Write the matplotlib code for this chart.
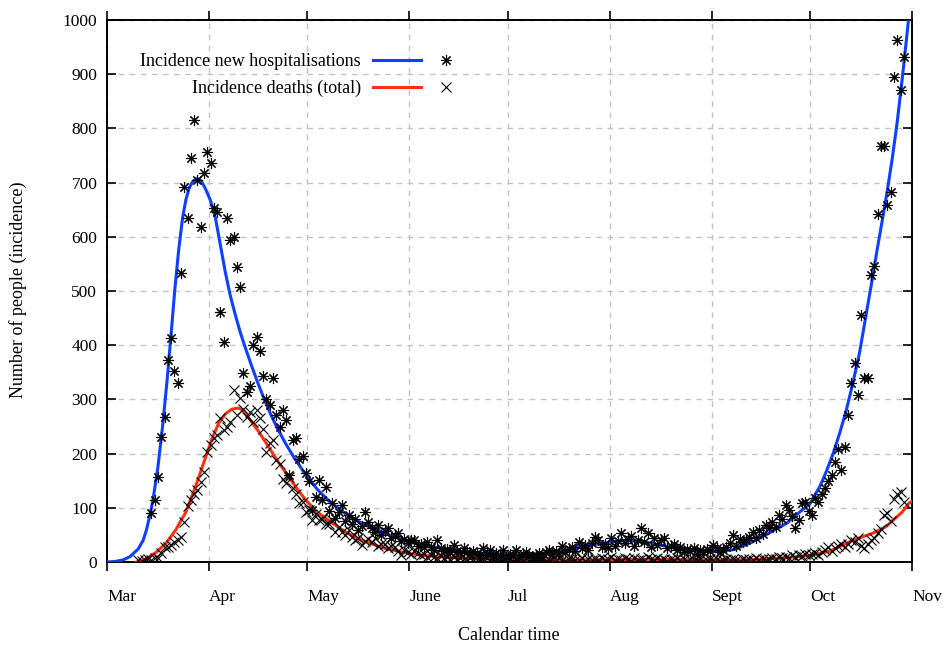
import numpy as np
import matplotlib
matplotlib.use('Agg')
from matplotlib import pyplot as plt
from matplotlib.lines import Line2D
from matplotlib.legend_handler import HandlerTuple

plt.rcParams['font.family'] = ['Liberation Serif', 'DejaVu Serif']
plt.rcParams['font.size'] = 12.5

# days counted from 1 March
month_days = [0, 31, 61, 92, 122, 153, 184, 214, 245]
month_labels = ['Mar', 'Apr', 'May', 'June', 'Jul', 'Aug', 'Sept', 'Oct', 'Nov']

# daily observed hospitalisations, first value is day 13
hosp_start = 13
hosp = [
    90, 114, 157, 230, 267, 372, 414, 352, 331, 533,
    692, 635, 746, 816, 705, 619, 717, 757, 737, 654,
    645, 461, 406, 635, 595, 599, 545, 508, 349, 314,
    324, 401, 415, 390, 343, 300, 290, 340, 272, 250,
    280, 262, 160, 226, 229, 190, 196, 165, 150, 96,
    120, 151, 115, 139, 95, 108, 82, 92, 105, 75,
    87, 70, 80, 59, 66, 93, 74, 62, 55, 68,
    50, 57, 62, 45, 48, 53, 38, 42, 35, 40,
    40, 30, 33, 27, 36, 28, 22, 40, 26, 20,
    24, 18, 31, 20, 16, 25, 19, 14, 20, 17,
    12, 25, 15, 22, 11, 16, 13, 22, 10, 15,
    12, 22, 9, 14, 19, 11, 8, 13, 16, 10,
    18, 22, 14, 20, 16, 29, 18, 24, 28, 20,
    37, 26, 31, 22, 35, 47, 40, 28, 33, 25,
    44, 30, 38, 54, 35, 42, 48, 30, 40, 62,
    36, 53, 28, 44, 32, 40, 44, 26, 30, 34,
    22, 28, 18, 24, 20, 26, 15, 22, 18, 24,
    20, 31, 25, 18, 22, 28, 35, 50, 30, 42,
    37, 40, 47, 56, 45, 59, 52, 68, 62, 74,
    65, 87, 80, 105, 96, 85, 62, 77, 108, 111,
    95, 87, 118, 111, 125, 136, 150, 160, 185, 209,
    169, 212, 271, 330, 367, 309, 455, 340, 340, 530,
    547, 642, 768, 768, 659, 682, 894, 963, 870, 932,
]

# daily observed deaths, first value is day 9
deaths_start = 9
deaths = [
    3, 2, 4, 5, 3, 7, 7, 16, 28, 28,
    31, 37, 40, 47, 74, 103, 114, 125, 133, 148,
    166, 203, 215, 228, 234, 266, 243, 249, 258, 318,
    271, 302, 283, 268, 277, 258, 280, 265, 246, 203,
    219, 225, 188, 180, 154, 145, 157, 136, 125, 108,
    110, 93, 96, 77, 88, 77, 80, 71, 71, 77,
    55, 65, 56, 50, 59, 46, 40, 45, 31, 38,
    42, 36, 44, 30, 33, 34, 25, 29, 28, 20,
    13, 22, 18, 15, 20, 16, 12, 14, 9, 12,
    10, 8, 11, 7, 9, 6, 10, 5, 8, 6,
    4, 7, 5, 3, 6, 4, 7, 3, 5, 2,
    6, 4, 3, 5, 2, 6, 4, 3, 7, 2,
    4, 5, 3, 6, 2, 4, 5, 3, 7, 4,
    2, 5, 6, 3, 4, 8, 2, 5, 3, 6,
    4, 7, 3, 5, 9, 4, 6, 3, 8, 5,
    2, 7, 4, 6, 3, 9, 5, 4, 7, 3,
    6, 2, 5, 4, 7, 3, 5, 2, 6, 4,
    3, 5, 2, 4, 6, 3, 5, 2, 4, 6,
    3, 5, 4, 2, 6, 3, 5, 4, 7, 3,
    6, 4, 5, 8, 6, 9, 7, 10, 8, 12,
    9, 13, 11, 15, 12, 14, 16, 13, 19, 22,
    28, 20, 25, 30, 34, 28, 34, 40, 37, 44,
    30, 25, 34, 40, 45, 53, 60, 87, 90, 75,
    117, 126, 129, 111,
]

# fitted model curves (day, value)
fit_hosp_day = [0, 2.5, 5, 7, 9.5, 11, 12, 13, 14, 15.5, 17, 18.3, 19.5,
                20.6, 21.8, 23, 24, 25, 26, 27, 28, 29, 30, 31.5, 33, 34.5,
                36, 37.5, 39, 40.5, 42, 44, 46, 48, 50, 52, 54.5, 57, 60,
                64, 68, 73.5, 78, 85, 91.5, 100, 108, 116, 124, 131, 138,
                146, 153.5, 158.5, 164.5, 171, 179, 186.5, 191, 196.5, 201,
                207, 210, 214, 217, 219, 221, 223, 225, 227, 229, 231, 233,
                234.5, 236, 237.5, 239, 240.5, 242, 243.5, 245]
fit_hosp = [0, 1, 4, 10, 24, 40, 59, 85, 115, 175, 255, 336, 420,
            500, 575, 635, 668, 690, 701, 707, 707, 700, 688, 667, 635, 585,
            535, 492, 457, 425, 397, 362, 329, 298, 270, 245, 217, 192, 165,
            134, 110, 85, 70, 52, 38, 27, 19, 15, 13, 15, 20,
            30, 37, 40, 36, 28, 22, 20, 23, 37, 52,
            72, 88, 108, 140, 168, 200, 238, 280, 330, 385, 455, 525,
            580, 632, 686, 745, 812, 890, 975, 1065]

fit_deaths_day = [9, 12, 15, 18, 21, 24, 27, 30, 32, 34, 36, 38, 40, 41.5,
                  43, 46, 48.5, 51.5, 54.5, 57.5, 60.5, 64, 68.5, 73.5, 77.5,
                  84, 91.5, 100, 108, 118, 128, 140, 155, 165, 180, 196, 205,
                  214, 220, 227, 233, 237, 242, 244, 245]
fit_deaths = [0, 6, 18, 35, 60, 92, 140, 193, 228, 256, 273, 282, 284, 280,
              267, 242, 219, 190, 164, 138, 114, 92, 72, 52, 40,
              26, 16, 10, 7, 5, 4, 4, 4, 5, 4, 4, 7,
              12, 20, 40, 53, 65, 92, 108, 112]

blue = '#1040ff'
red = '#ff3010'

fig = plt.figure(figsize=(9.44, 6.46), dpi=100)
ax = fig.add_axes([107 / 944, 1 - 562 / 646, 805 / 944, 542 / 646])

hx = np.arange(hosp_start, hosp_start + len(hosp)) + 0.5
dx = np.arange(deaths_start, deaths_start + len(deaths)) + 0.5

ax.plot(fit_hosp_day, fit_hosp, color=blue, lw=2.2, zorder=3)
ax.plot(fit_deaths_day, fit_deaths, color=red, lw=2.2, zorder=3)
ax.plot(hx, hosp, ls='none', marker=(8, 2, 0), ms=8, mew=0.8,
        color='black', zorder=4)
ax.plot(dx, deaths, ls='none', marker='x', ms=7, mew=0.8,
        color='black', zorder=4)

ax.set_xlim(0, 245)
ax.set_ylim(0, 1000)
ax.set_xticks(month_days)
ax.set_xticklabels(month_labels, ha='left')
ax.set_yticks(range(0, 1001, 100))
ax.tick_params(axis='x', direction='out', length=6.5, width=1.2,
               top=True, pad=13)
ax.tick_params(axis='y', direction='in', length=6.5, width=1.2,
               right=True, pad=7)
for s in ax.spines.values():
    s.set_linewidth(1.4)
ax.grid(True, color='#c4c4c4', linestyle=(0, (4, 4)), linewidth=1.0)
ax.set_axisbelow(True)

fig.text(509 / 944, 1 - 636 / 646, 'Calendar time', ha='center', va='center',
         fontsize=13)
fig.text(18 / 944, 1 - 290 / 646, 'Number of people (incidence)',
         rotation=90, ha='center', va='center', fontsize=13)

h1 = (Line2D([], [], color=blue, lw=2.2),
      Line2D([], [], ls='none', marker=(8, 2, 0), ms=8, mew=0.8, color='black'))
h2 = (Line2D([], [], color=red, lw=2.2),
      Line2D([], [], ls='none', marker='x', ms=7, mew=0.8, color='black'))
ax.legend([h1, h2], ['Incidence new hospitalisations', 'Incidence deaths (total)'],
          handler_map={tuple: HandlerTuple(ndivide=None, pad=0)},
          markerfirst=False, frameon=False, loc='upper left', fontsize=13,
          bbox_to_anchor=(0.041, 0.939), borderpad=0, borderaxespad=0,
          handlelength=5.4, handletextpad=0.66, labelspacing=0.55)

fig.savefig('out.png', dpi=100)
